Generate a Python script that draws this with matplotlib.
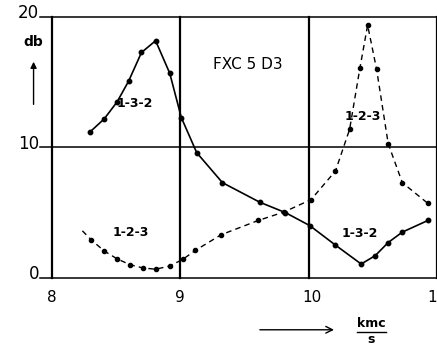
import matplotlib

matplotlib.use("Agg")
import matplotlib.pyplot as plt

# series "1-3-2" (solid)
f_132 = [8.30, 8.41, 8.51, 8.60, 8.70, 8.81, 8.92, 9.01, 9.13, 9.33, 9.62, 9.82,
         10.01, 10.21, 10.41, 10.52, 10.62, 10.73, 10.93]
db_132 = [11.2, 12.2, 13.5, 15.1, 17.3, 18.2, 15.7, 12.3, 9.6, 7.3, 5.8, 5.0,
          4.0, 2.5, 1.05, 1.7, 2.7, 3.5, 4.4]

# series "1-2-3" (dashed)
f_123 = [8.24, 8.31, 8.41, 8.51, 8.61, 8.71, 8.81, 8.92, 9.02, 9.12, 9.32, 9.61,
         9.81, 10.02, 10.21, 10.32, 10.40, 10.46, 10.53, 10.62, 10.73, 10.93]
db_123 = [3.6, 2.9, 2.05, 1.45, 1.0, 0.75, 0.65, 0.9, 1.4, 2.1, 3.3, 4.4,
          5.05, 6.0, 8.2, 11.4, 16.1, 19.4, 16.0, 10.3, 7.3, 5.7]

x_ticks = [8, 9, 10, 11]
y_ticks = [0, 10, 20]

fig = plt.figure(figsize=(4.37, 3.46), dpi=100)
ax = fig.add_axes([0.0915, 0.1974, 0.9085, 0.7526])
ax.set_xlim(7.91, 11.0)
ax.set_ylim(0, 20)
ax.axis("off")

for y in y_ticks:
    ax.plot([7.91, 11.0], [y, y], color="black", lw=1.1, clip_on=False)
for x in x_ticks:
    ax.plot([x, x], [0, 20], color="black", lw=1.6, clip_on=False)

ax.plot(f_132, db_132, "-", color="black", lw=1.2, marker="o", ms=3.2, clip_on=False)
ax.plot(f_123, db_123, "--", color="black", lw=1.0, dashes=(4, 3),
        marker="o", ms=3.0, markevery=list(range(1, len(f_123))), clip_on=False)

font = "DejaVu Sans"
ax.text(8.65, 13.4, "1-3-2", fontsize=9, fontweight="bold", ha="center", va="center", family=font)
ax.text(10.42, 12.4, "1-2-3", fontsize=9, fontweight="bold", ha="center", va="center", family=font)
ax.text(8.62, 3.45, "1-2-3", fontsize=9, fontweight="bold", ha="center", va="center", family=font)
ax.text(10.40, 3.4, "1-3-2", fontsize=9, fontweight="bold", ha="center", va="center", family=font)
ax.text(9.53, 16.4, "FXC 5 D3", fontsize=11, ha="center", va="center", family=font)

for y in y_ticks:
    ax.text(7.905, y + 0.3, str(y), fontsize=12, ha="right", va="center", family=font)
for x in x_ticks:
    ax.text(x + (0.03 if x == 10 else 0), -1.55, str(x), fontsize=11, ha="center", va="center", family=font)

ax.text(7.86, 18.1, "db", fontsize=10, fontweight="bold", ha="center", va="center", family=font)
ax.annotate("", xy=(7.86, 16.8), xytext=(7.86, 13.1),
            arrowprops=dict(arrowstyle="-|>", color="black", lw=1.0, mutation_scale=9),
            annotation_clip=False)
ax.annotate("", xy=(10.22, -4.0), xytext=(9.6, -4.0),
            arrowprops=dict(arrowstyle="->", color="black", lw=1.0, mutation_scale=12),
            annotation_clip=False)
ax.text(10.49, -3.55, "kmc", fontsize=9, fontweight="bold", ha="center", va="center", family=font)
ax.plot([10.38, 10.6], [-4.15, -4.15], color="black", lw=1.0, clip_on=False)
ax.text(10.49, -4.75, "s", fontsize=9, fontweight="bold", ha="center", va="center", family=font)

fig.savefig("out.png", dpi=100)
